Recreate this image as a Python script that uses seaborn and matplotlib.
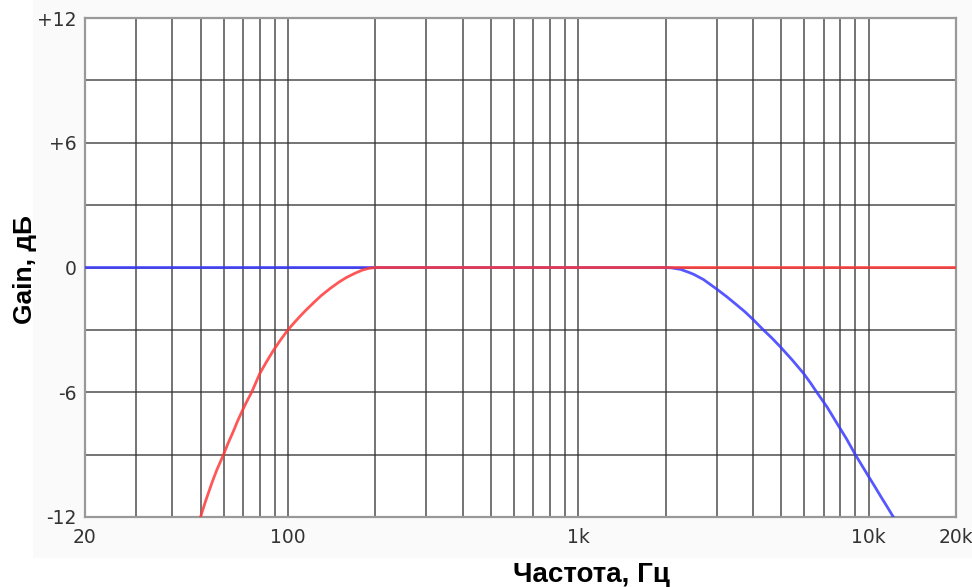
import matplotlib
matplotlib.use("Agg")
import matplotlib.pyplot as plt
from matplotlib.patches import Rectangle
import pandas as pd
import seaborn as sns

# High-pass (red) response: frequency in Hz, gain in dB
hp_freq = [50, 52, 55, 57, 60, 62, 65, 67, 70, 72, 75, 80, 84, 89, 94, 100,
           105, 110, 115, 122, 130, 140, 150, 159, 170, 180, 190, 200, 20000]
hp_gain = [-12, -11.25, -10.27, -9.71, -9.0, -8.5, -7.85, -7.4, -6.82, -6.47, -6.0,
           -5.1, -4.58, -4.0, -3.51, -3.0, -2.66, -2.35, -2.07, -1.72, -1.36, -1.0,
           -0.7, -0.48, -0.28, -0.13, -0.04, 0, 0]

# Low-pass (blue) response
lp_freq = [20, 2000, 2100, 2250, 2400, 2500, 2700, 3000, 3250, 3500, 3750, 4000,
           4340, 4650, 5000, 5450, 5960, 6300, 6630, 7200, 7770, 8400, 9000, 9500,
           10000, 10500, 11000, 11600, 12170]
lp_gain = [0, 0, -0.02, -0.09, -0.23, -0.33, -0.58, -1.04, -1.41, -1.78, -2.13, -2.5,
           -3.0, -3.4, -3.86, -4.44, -5.08, -5.54, -6.0, -6.72, -7.48, -8.25, -9.0,
           -9.54, -10.05, -10.53, -11.0, -11.52, -12]

x_ticks = [20, 100, 1000, 10000, 20000]
x_tick_labels = ["20", "100", "1k", "10k", "20k"]
y_ticks = [-12, -6, 0, 6, 12]
y_tick_labels = ["-12", "-6", "0", "+6", "+12"]
y_minor = [-9, -3, 3, 9]

sns.set_theme(style="white")
plt.rcParams["font.family"] = ["DejaVu Sans"]

fig = plt.figure(figsize=(9.72, 5.87), dpi=100)
fig.patch.set_facecolor("white")
# faint panel behind the chart
fig.patches.append(Rectangle((33 / 972, 1 - 558 / 587), 1 - 33 / 972, 558 / 587,
                             transform=fig.transFigure, facecolor="#fafafa",
                             edgecolor="none", zorder=-10))

ax = fig.add_axes([85 / 972, 1 - 517 / 587, 871 / 972, 499 / 587])
ax.set_facecolor("white")

df_lp = pd.DataFrame({"freq": lp_freq, "gain": lp_gain})
df_hp = pd.DataFrame({"freq": hp_freq, "gain": hp_gain})

sns.lineplot(data=df_lp, x="freq", y="gain", ax=ax, color="#3a3aff",
             linewidth=2.0, alpha=0.85, zorder=3)
sns.lineplot(data=df_hp, x="freq", y="gain", ax=ax, color="#ff3a3a",
             linewidth=2.0, alpha=0.85, zorder=4)

ax.set_xscale("log")
ax.set_xlim(20, 20000)
ax.set_ylim(-12, 12)

# vertical grid at every 1-9 multiple of each decade
grid_x = [m * 10 ** e for e in range(1, 5) for m in range(1, 10) if 20 <= m * 10 ** e <= 20000]
for gx in grid_x:
    ax.axvline(gx, color="#333333", linewidth=1.2, alpha=0.8, zorder=1)
for gy in y_ticks + y_minor:
    ax.axhline(gy, color="#333333", linewidth=1.2, alpha=0.8, zorder=1)

ax.xaxis.set_minor_locator(matplotlib.ticker.NullLocator())
ax.set_xticks(x_ticks)
ax.set_xticklabels(x_tick_labels)
ax.set_yticks(y_ticks)
ax.set_yticklabels(y_tick_labels)
ax.tick_params(axis="both", length=0, labelsize=13.5, colors="#333333")
ax.tick_params(axis="x", pad=8)
ax.tick_params(axis="y", pad=6)

for side in ["left", "bottom", "top", "right"]:
    ax.spines[side].set_visible(True)
    ax.spines[side].set_color("#999999")
    ax.spines[side].set_linewidth(1.6)

ax.set_xlabel("")
ax.set_ylabel("")
fig.text(591 / 972, 1 - 582 / 587, "Частота, Гц", ha="center", va="baseline",
         fontsize=20, fontweight="bold", family=["Liberation Sans", "DejaVu Sans"],
         color="black")
fig.text(25 / 972, 1 - 270 / 587, "Gain, дБ", ha="center", va="center",
         rotation=90, fontsize=19, fontweight="bold",
         family=["Liberation Sans", "DejaVu Sans"], color="black")

fig.savefig("out.png", dpi=100, facecolor=fig.get_facecolor())
